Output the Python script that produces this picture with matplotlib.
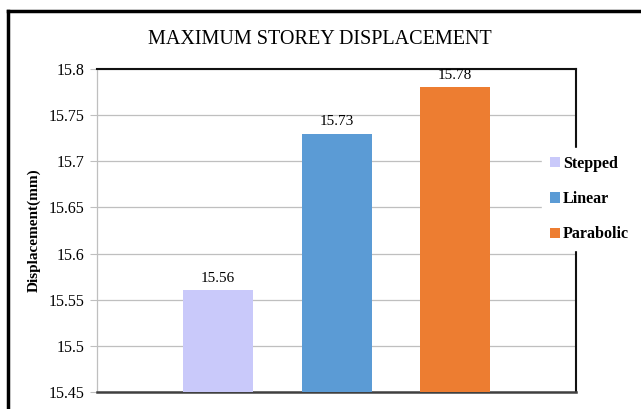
import matplotlib
matplotlib.use("Agg")
import matplotlib.pyplot as plt
from matplotlib.patches import Patch
from matplotlib.lines import Line2D

categories = ["Stepped", "Linear", "Parabolic"]
values = [15.56, 15.73, 15.78]
colors = ["#C9C9FA", "#5B9BD5", "#ED7D31"]
yticks = [15.45, 15.5, 15.55, 15.6, 15.65, 15.7, 15.75, 15.8]
ytick_labels = ["15.45", "15.5", "15.55", "15.6", "15.65", "15.7", "15.75", "15.8"]

plt.rcParams['font.family'] = ['Liberation Serif', 'DejaVu Serif']

fig = plt.figure(figsize=(6.41, 4.09), dpi=100)
ax = fig.add_axes([97/641, 17/409, (576-97)/641, (392-69)/409])

x = list(range(len(categories)))
base = 15.45
bars = ax.bar(x, [v - base for v in values], bottom=base, width=0.59, color=colors, zorder=3)
for xi, v in zip(x, values):
    ax.text(xi, v + 0.006, f"{v:.2f}", ha="center", va="bottom", fontsize=11, zorder=4)

ax.set_xlim(-1.023, 3.02)
ax.set_ylim(15.45, 15.8)
ax.set_yticks(yticks)
ax.set_yticklabels(ytick_labels, fontsize=11.5)
ax.set_xticks([])
ax.tick_params(axis='y', length=5, color='#BFBFBF', pad=4)
ax.yaxis.grid(True, color='#BFBFBF', linewidth=0.9, zorder=0)
ax.set_axisbelow(True)

ax.spines['left'].set_color('#BFBFBF')
ax.spines['left'].set_linewidth(0.9)
ax.spines['bottom'].set_color('#404040')
ax.spines['bottom'].set_linewidth(1.8)
ax.spines['top'].set_color('#111111')
ax.spines['top'].set_linewidth(1.5)
ax.spines['right'].set_color('#111111')
ax.spines['right'].set_linewidth(1.5)

ax.set_ylabel("Displacement(mm)", fontsize=11, fontweight='bold', labelpad=6)

fig.text(320/641, 1 - 40/409, "MAXIMUM STOREY DISPLACEMENT", ha="center", va="center", fontsize=14.5)

handles = [Patch(facecolor=c, edgecolor='none') for c in colors]
leg = fig.legend(handles, categories, loc='upper left', bbox_to_anchor=(534/641, 1 - 140/409),
                 frameon=True, fancybox=False, framealpha=1.0, edgecolor='white',
                 prop={'weight': 'bold', 'size': 11.5}, handlelength=0.6, handleheight=0.6,
                 handletextpad=0.2, labelspacing=1.2, borderpad=0.5)
leg.set_zorder(10)

# outer border (top and left visible)
fig.add_artist(Line2D([8/641, 8/641], [0, 1 - 11/409], transform=fig.transFigure, color='black', linewidth=2.5))
fig.add_artist(Line2D([8/641, 1], [1 - 11/409, 1 - 11/409], transform=fig.transFigure, color='black', linewidth=2.5))

fig.savefig("out.png", dpi=100)
